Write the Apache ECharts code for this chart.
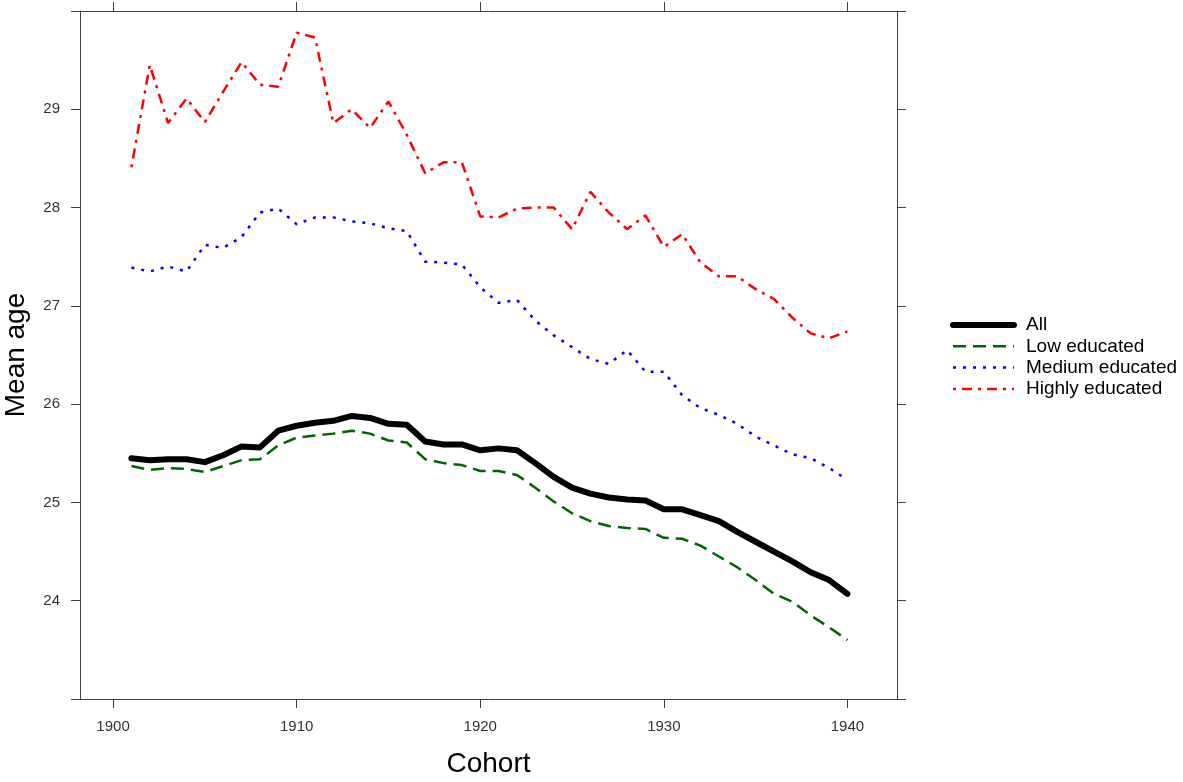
<!DOCTYPE html>
<html>
<head>
<meta charset="utf-8">
<script src="https://cdn.jsdelivr.net/npm/echarts@6/dist/echarts.min.js"></script>
<style>
  html, body { margin: 0; padding: 0; background: #fff; }
  #chart { width: 1183px; height: 782px; }
</style>
</head>
<body>
<div id="chart"></div>
<script>
const years = [];
for (let y = 1901; y <= 1940; y++) years.push(y);

const allAges = [25.45, 25.43, 25.44, 25.44, 25.41, 25.48, 25.57, 25.56, 25.73, 25.78,
  25.81, 25.83, 25.88, 25.86, 25.80, 25.79, 25.62, 25.59, 25.59, 25.53,
  25.55, 25.53, 25.40, 25.26, 25.15, 25.09, 25.05, 25.03, 25.02, 24.93,
  24.93, 24.87, 24.81, 24.70, 24.60, 24.50, 24.40, 24.29, 24.21, 24.07];
const lowAges = [25.37, 25.33, 25.35, 25.34, 25.31, 25.37, 25.43, 25.44, 25.58, 25.66,
  25.68, 25.70, 25.73, 25.70, 25.63, 25.61, 25.44, 25.40, 25.38, 25.32,
  25.32, 25.28, 25.15, 25.01, 24.89, 24.81, 24.76, 24.74, 24.73, 24.64,
  24.63, 24.56, 24.45, 24.34, 24.21, 24.07, 23.99, 23.85, 23.73, 23.60];
const mediumAges = [27.39, 27.35, 27.40, 27.35, 27.62, 27.59, 27.70, 27.95, 27.99, 27.83,
  27.90, 27.90, 27.86, 27.84, 27.79, 27.76, 27.45, 27.44, 27.42, 27.19,
  27.03, 27.06, 26.85, 26.70, 26.58, 26.46, 26.41, 26.55, 26.33, 26.33,
  26.09, 25.96, 25.89, 25.80, 25.67, 25.58, 25.49, 25.45, 25.35, 25.23];
const highAges = [28.41, 29.45, 28.86, 29.11, 28.87, 29.18, 29.48, 29.25, 29.23, 29.78,
  29.73, 28.86, 29.00, 28.81, 29.08, 28.74, 28.35, 28.46, 28.46, 27.91,
  27.90, 27.99, 28.00, 28.00, 27.78, 28.16, 27.95, 27.78, 27.92, 27.60,
  27.73, 27.44, 27.30, 27.30, 27.17, 27.07, 26.88, 26.72, 26.67, 26.74];
const xTicks = [1900, 1910, 1920, 1930, 1940];

const chart = echarts.init(document.getElementById('chart'));
const pairs = vals => years.map((y, i) => [y, vals[i]]);

const axisColor = '#404040';
const font = 'Liberation Sans, Arial, sans-serif';
const xBase = {
  type: 'value', min: 1898.2, max: 1942.7,
  axisLine: { show: true, onZero: false, lineStyle: { color: axisColor, width: 1 } },
  axisTick: { show: true, inside: false, length: 9, customValues: xTicks },
  splitLine: { show: false }
};
const yBase = {
  type: 'value', min: 23, max: 30, interval: 1,
  axisLine: { show: true, onZero: false, lineStyle: { color: axisColor, width: 1 } },
  axisTick: { show: true, inside: false, length: 9 },
  splitLine: { show: false }
};

// legend shows only the line, no marker
const noMarker = { opacity: 0, borderWidth: 0 };

const option = {
  animation: false,
  backgroundColor: '#fff',
  grid: { left: 80, right: 286, top: 11, bottom: 83, containLabel: false, outerBoundsMode: 'none' },
  xAxis: [
    Object.assign({}, xBase, {
      position: 'bottom',
      name: 'Cohort', nameLocation: 'middle', nameGap: 51,
      nameTextStyle: { fontSize: 28, color: '#000', fontFamily: font },
      axisLabel: {
        show: true, margin: 20, fontSize: 15, color: '#333', fontFamily: font,
        customValues: xTicks, formatter: v => String(v)
      }
    }),
    Object.assign({}, xBase, { position: 'top', axisLabel: { show: false } })
  ],
  yAxis: [
    Object.assign({}, yBase, {
      position: 'left',
      name: 'Mean age', nameLocation: 'middle', nameGap: 50,
      nameTextStyle: { fontSize: 28, color: '#000', fontFamily: font },
      axisLabel: {
        show: true, margin: 20, fontSize: 15, color: '#333', fontFamily: font,
        formatter: v => (v > 23 && v < 30 ? String(v) : '')
      }
    }),
    Object.assign({}, yBase, { position: 'right', axisLabel: { show: false } })
  ],
  legend: {
    orient: 'vertical', left: 945, top: 310,
    itemWidth: 61, itemHeight: 20, itemGap: 1.3,
    itemStyle: noMarker,
    textStyle: { fontSize: 19, color: '#000', fontFamily: font, lineHeight: 20, padding: [0, 0, 0, 7] },
    data: [
      { name: 'All', itemStyle: noMarker, lineStyle: { width: 6, type: 'solid', cap: 'round' } },
      { name: 'Low educated', itemStyle: noMarker, lineStyle: { width: 2.5, type: [13, 7] } },
      { name: 'Medium educated', itemStyle: noMarker, lineStyle: { width: 2.5, type: [3, 7] } },
      { name: 'Highly educated', itemStyle: noMarker, lineStyle: { width: 2.5, type: [3, 6, 10, 6] } }
    ]
  },
  series: [
    {
      name: 'All', type: 'line', data: pairs(allAges), symbol: 'none',
      lineStyle: { color: '#000', width: 6, cap: 'round', join: 'round' }, itemStyle: { color: '#000' }, z: 4
    },
    {
      name: 'Low educated', type: 'line', data: pairs(lowAges), symbol: 'none',
      lineStyle: { color: '#006400', width: 2.5, type: [13, 7] }, itemStyle: { color: '#006400' }
    },
    {
      name: 'Medium educated', type: 'line', data: pairs(mediumAges), symbol: 'none',
      lineStyle: { color: '#0000ff', width: 2.5, type: [3, 7] }, itemStyle: { color: '#0000ff' }
    },
    {
      name: 'Highly educated', type: 'line', data: pairs(highAges), symbol: 'none',
      lineStyle: { color: '#ff0000', width: 2.5, type: [3, 6, 10, 6] }, itemStyle: { color: '#ff0000' }
    }
  ]
};

chart.setOption(option);
window.addEventListener('resize', () => chart.resize());
</script>
</body>
</html>
